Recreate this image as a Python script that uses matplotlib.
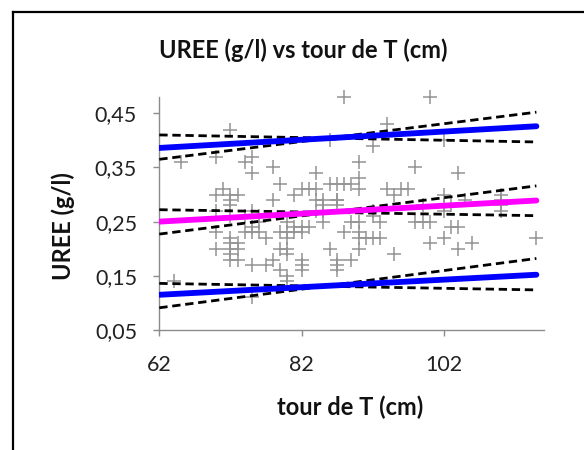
import matplotlib
matplotlib.use("Agg")
import matplotlib.pyplot as plt
from matplotlib.lines import Line2D
from matplotlib.ticker import FixedLocator, FuncFormatter

# Observations: waist circumference (cm) and blood urea (g/l)
tour_cm = [
    88, 100, 72, 94, 86, 92, 102, 65, 70, 74, 75, 75, 78, 90, 98, 104,
    79, 84, 90, 86, 87, 88, 89, 90, 71, 70, 73, 72, 72, 82, 83, 84, 81,
    85, 87, 94, 95, 96, 97, 78, 102, 105, 110, 110,
    99, 102, 103, 110, 92, 93, 98, 100, 99, 103, 104, 102, 100, 104, 106,
    115, 95, 88, 90, 90, 93, 86, 90, 87, 87, 89, 87, 80, 81, 82, 80, 80,
    82, 82, 75, 77, 78, 79, 80, 64, 75, 84, 85, 84, 85, 87, 80, 81, 82,
    85, 89, 75, 76, 76, 72, 72, 70, 75, 76, 72, 73, 70, 72, 73, 72, 73,
    74, 74, 75, 70, 72, 79, 79, 72, 87, 90, 92, 91, 92, 80, 82, 80, 102,
    110, 83, 77,
]
uree_gl = [
    0.48, 0.48, 0.42, 0.43, 0.40, 0.39, 0.40, 0.36, 0.37, 0.36, 0.37, 0.34,
    0.35, 0.36, 0.35, 0.34, 0.32, 0.34, 0.33, 0.32, 0.32, 0.32, 0.32, 0.31,
    0.31, 0.30, 0.30, 0.30, 0.29, 0.31, 0.31, 0.31, 0.30, 0.29, 0.29, 0.31,
    0.30, 0.31, 0.31, 0.29, 0.30, 0.29, 0.30, 0.29,
    0.28, 0.28, 0.28, 0.28, 0.27, 0.25, 0.25, 0.25, 0.25, 0.24, 0.24, 0.22,
    0.21, 0.20, 0.21, 0.22, 0.19, 0.23, 0.23, 0.22, 0.22, 0.20, 0.20, 0.18,
    0.17, 0.18, 0.16, 0.23, 0.23, 0.23, 0.19, 0.20, 0.18, 0.17, 0.17, 0.17,
    0.18, 0.16, 0.14, 0.14, 0.11, 0.27, 0.27, 0.29, 0.28, 0.29, 0.25, 0.24,
    0.24, 0.25, 0.25, 0.24, 0.25, 0.23, 0.26, 0.28, 0.27, 0.27, 0.26, 0.21,
    0.21, 0.20, 0.20, 0.20, 0.19, 0.18, 0.26, 0.23, 0.23, 0.23, 0.22, 0.23,
    0.20, 0.18, 0.28, 0.25, 0.26, 0.22, 0.22, 0.22, 0.16, 0.15, 0.27, 0.27,
    0.24, 0.22,
]

# Fitted lines evaluated at the smallest and largest waist value
x_ends = [62, 115]
fit_mid = [0.250, 0.289]
fit_hi = [0.386, 0.426]
fit_lo = [0.115, 0.152]
# Dashed bounds around each fitted line
hi_a = [0.410, 0.397]
hi_b = [0.365, 0.452]
mid_a = [0.272, 0.261]
mid_b = [0.227, 0.316]
lo_a = [0.136, 0.124]
lo_b = [0.091, 0.182]

x_ticks = [62, 82, 102]
y_ticks = [0.05, 0.15, 0.25, 0.35, 0.45]

W, H = 584, 450
fig = plt.figure(figsize=(W / 100, H / 100), dpi=100)
fig.patch.set_facecolor("white")

FONT = "Lato"
axis_grey = "#8c8c8c"

ax = fig.add_axes([159.3 / W, 1 - 330 / H, (543.5 - 159.3) / W, (330 - 97) / H])
ax.set_xlim(62, 116)
ax.set_ylim(0.05, 0.48)

ax.plot(tour_cm, uree_gl, linestyle="none", marker="+", markersize=10,
        markeredgewidth=1.1, color="#939393", clip_on=False, zorder=2)

dash = (0, (3.0, 1.7))
for yv in (hi_a, hi_b, mid_a, mid_b, lo_a, lo_b):
    ax.plot(x_ends, yv, color="black", lw=2.0, linestyle=dash, zorder=3)
ax.plot(x_ends, fit_hi, color="#0000ff", lw=4.2, solid_capstyle="round", zorder=4)
ax.plot(x_ends, fit_lo, color="#0000ff", lw=4.2, solid_capstyle="round", zorder=4)
ax.plot(x_ends, fit_mid, color="#ff00ff", lw=4.2, solid_capstyle="round", zorder=4)

for side in ("top", "right"):
    ax.spines[side].set_visible(False)
for side in ("left", "bottom"):
    ax.spines[side].set_color(axis_grey)
    ax.spines[side].set_linewidth(1.0)

ax.xaxis.set_major_locator(FixedLocator(x_ticks))
ax.yaxis.set_major_locator(FixedLocator(y_ticks))
ax.yaxis.set_major_formatter(FuncFormatter(lambda v, p: f"{v:.2f}".replace(".", ",")))
ax.tick_params(axis="both", direction="out", length=4, width=1.0, color=axis_grey,
               labelsize=15.5, labelcolor="#222222")
ax.tick_params(axis="y", pad=12)
ax.tick_params(axis="x", pad=14)
for lab in ax.get_xticklabels() + ax.get_yticklabels():
    lab.set_family(FONT)

fig.text(303 / W, 1 - 50 / H, "UREE (g/l) vs tour de T (cm)", ha="center", va="center",
         fontsize=17, fontweight="bold", family=FONT, color="#111111")
fig.text(350 / W, 1 - 407 / H, "tour de T (cm)", ha="center", va="center",
         fontsize=17, fontweight="bold", family=FONT, color="#111111")
fig.text(63 / W, 1 - 226 / H, "UREE (g/l)", ha="center", va="center", rotation=90,
         fontsize=17, fontweight="bold", family=FONT, color="#111111")

# Chart frame (left and top edges)
fig.add_artist(Line2D([13 / W, 13 / W], [0, 1 - 12 / H], color="black", lw=1.6,
                      transform=fig.transFigure))
fig.add_artist(Line2D([13 / W, 1.0], [1 - 12 / H, 1 - 12 / H], color="black", lw=1.6,
                      transform=fig.transFigure))

fig.savefig("out.png", dpi=100)
